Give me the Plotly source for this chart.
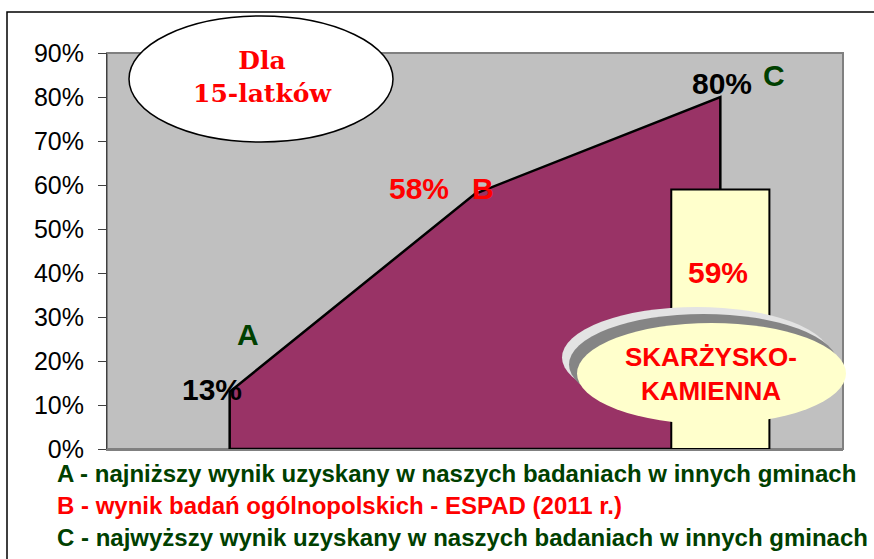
import plotly.graph_objects as go

# ---- data ----
points = ["A", "B", "C"]
x_pos = [0.5, 1.5, 2.5]
values = [13, 58, 80]
value_labels = ["13%", "58%", "80%"]
local_name = "SKARŻYSKO-<br>KAMIENNA"
local_value = 59
local_label = "59%"
y_ticks = [0, 10, 20, 30, 40, 50, 60, 70, 80, 90]
y_tick_labels = ["0%", "10%", "20%", "30%", "40%", "50%", "60%", "70%", "80%", "90%"]
legend_lines = [
    "A - najniższy wynik uzyskany w naszych badaniach w innych gminach",
    "B - wynik badań ogólnopolskich - ESPAD (2011 r.)",
    "C - najwyższy wynik uzyskany w naszych badaniach w innych gminach",
]
title_text = "Dla<br>15-latków"

# ---- layout geometry (pixels) ----
W_FIG, H_FIG = 874, 559
L, R, T, B = 107, 843, 53, 449
PW, PH = R - L, B - T


def px(x):
    return (x - L) / PW


def py(y):
    return (B - y) / PH


GREEN = "#004000"
RED = "#FF0000"
PURPLE = "#993366"
YELLOW = "#FFFFCC"

fig = go.Figure()

# area polygon A-B-C
poly_x = [x_pos[0]] + x_pos + [x_pos[-1], x_pos[0]]
poly_y = [0] + values + [0, 0]
fig.add_trace(go.Scatter(
    x=poly_x, y=poly_y, mode="lines", fill="toself",
    fillcolor=PURPLE, line=dict(color="black", width=2.5),
    hoverinfo="skip", showlegend=False))

# local bar (drawn as polygon so it sits above the area)
bw = 0.4
bx = x_pos[2]
fig.add_trace(go.Scatter(
    x=[bx - bw / 2, bx - bw / 2, bx + bw / 2, bx + bw / 2, bx - bw / 2],
    y=[0, local_value, local_value, 0, 0],
    mode="lines", fill="toself", fillcolor=YELLOW,
    line=dict(color="black", width=2), hoverinfo="skip", showlegend=False))

shapes = []
# outer frame
shapes.append(dict(type="rect", xref="paper", yref="paper",
                   x0=px(7), x1=px(890), y0=py(12), y1=py(600),
                   line=dict(color="black", width=1.5), layer="below"))
# plot area
shapes.append(dict(type="rect", xref="paper", yref="paper",
                   x0=0, x1=1, y0=0, y1=1, fillcolor="#C0C0C0",
                   line=dict(color="#808080", width=2), layer="below"))
# title ellipse
shapes.append(dict(type="circle", xref="paper", yref="paper",
                   x0=px(129), x1=px(393), y0=py(142), y1=py(16),
                   fillcolor="white", line=dict(color="black", width=1.5)))
# local ellipse with bevel shadows
ex0, ex1, ey0, ey1 = 577, 846, 323, 424
for dx, dy, col in [(-15, -16, "#E3E3E3"), (-8, -9, "#858585"), (0, 0, YELLOW)]:
    shapes.append(dict(type="circle", xref="paper", yref="paper",
                       x0=px(ex0 + dx), x1=px(ex1 + dx),
                       y0=py(ey1 + dy), y1=py(ey0 + dy),
                       fillcolor=col, line=dict(width=0)))

ann = []
bold_font = "Liberation Sans, Arial, sans-serif"
# data labels
ann.append(dict(x=x_pos[0], y=values[0], text="<b>%s</b>" % value_labels[0],
                showarrow=False, xshift=-18, yshift=2,
                font=dict(size=30, color="black", family=bold_font)))
ann.append(dict(x=x_pos[0], y=values[0], text="<b>%s</b>" % points[0],
                showarrow=False, xshift=18, yshift=57,
                font=dict(size=30, color=GREEN, family=bold_font)))
ann.append(dict(x=x_pos[1], y=values[1], text="<b>%s</b>" % value_labels[1],
                showarrow=False, xshift=-56, yshift=5,
                font=dict(size=30, color=RED, family=bold_font)))
ann.append(dict(x=x_pos[1], y=values[1], text="<b>%s</b>" % points[1],
                showarrow=False, xshift=8, yshift=5,
                font=dict(size=30, color=RED, family=bold_font)))
ann.append(dict(x=x_pos[2], y=values[2], text="<b>%s</b>" % value_labels[2],
                showarrow=False, xshift=2, yshift=14,
                font=dict(size=30, color="black", family=bold_font)))
ann.append(dict(x=x_pos[2], y=values[2], text="<b>%s</b>" % points[2],
                showarrow=False, xshift=54, yshift=22,
                font=dict(size=30, color=GREEN, family=bold_font)))
ann.append(dict(x=x_pos[2], y=local_value, text="<b>%s</b>" % local_label,
                showarrow=False, xshift=-2, yshift=-83,
                font=dict(size=30, color=RED, family=bold_font)))
# ellipse texts
ann.append(dict(xref="paper", yref="paper", x=px(262), y=py(77),
                text="<b>%s</b>" % title_text, showarrow=False,
                xanchor="center", yanchor="middle",
                font=dict(size=25, color=RED, family="DejaVu Serif, serif")))
ann.append(dict(xref="paper", yref="paper", x=px(711), y=py(374),
                text="<b>%s</b>" % local_name, showarrow=False,
                xanchor="center", yanchor="middle",
                font=dict(size=26, color=RED, family=bold_font)))
# bottom legend lines
for i, (line, col) in enumerate(zip(legend_lines, [GREEN, RED, GREEN])):
    ann.append(dict(xref="paper", yref="paper", x=px(55), y=py(473 + 32 * i),
                    text="<b>%s</b>" % line, showarrow=False,
                    xanchor="left", yanchor="middle",
                    font=dict(size=24, color=col, family=bold_font)))

fig.update_layout(
    width=W_FIG, height=H_FIG,
    margin=dict(l=L, r=W_FIG - R, t=T, b=H_FIG - B, pad=0),
    paper_bgcolor="white", plot_bgcolor="rgba(0,0,0,0)",
    shapes=shapes, annotations=ann, showlegend=False,
    xaxis=dict(range=[0, 3], showgrid=False, zeroline=False,
               showticklabels=False, ticks="", showline=True,
               linecolor="#808080", linewidth=2, fixedrange=True),
    yaxis=dict(range=[0, 90], tickvals=y_ticks, ticktext=y_tick_labels,
               showgrid=False, zeroline=False, showline=True,
               linecolor="#404040", linewidth=1, ticks="outside",
               ticklen=8, tickcolor="#404040", ticklabelstandoff=9,
               tickfont=dict(size=25, color="black",
                             family="Liberation Sans, Arial, sans-serif"),
               fixedrange=True),
)

fig.write_html("out.html", config={"displayModeBar": False},
               post_script="document.body.style.margin='0';"
                           "document.body.style.overflow='hidden';")
